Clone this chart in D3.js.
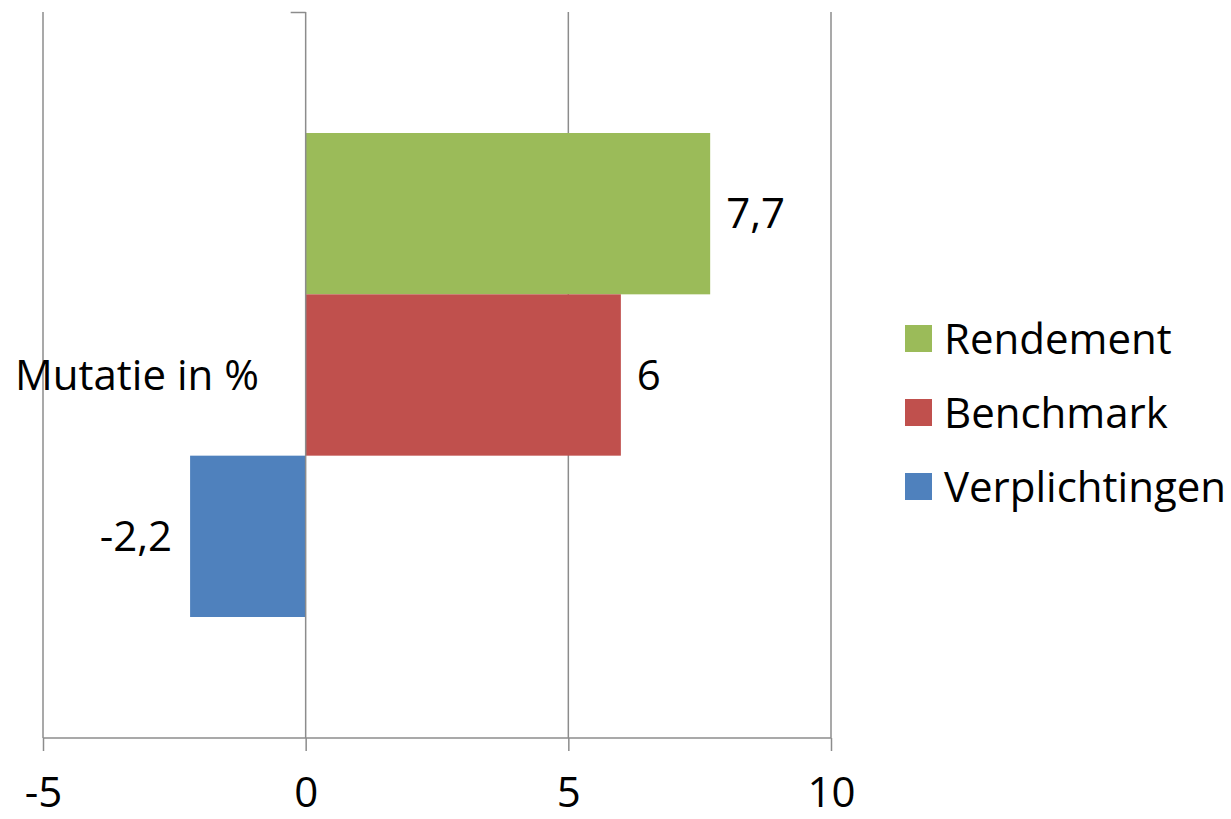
<!DOCTYPE html>
<html>
<head>
<meta charset="utf-8">
<script src="https://cdn.jsdelivr.net/npm/d3@7"></script>
<style>
  body { margin: 0; background: #fff; }
  svg text { font-family: "Open Sans", Lato, sans-serif; fill: #000; font-variant-ligatures: none; }
</style>
</head>
<body>
<svg id="chart" width="1231" height="819"></svg>
<script>
var categories = ['Mutatie in %'];
var seriesNames = ['Rendement', 'Benchmark', 'Verplichtingen'];
var seriesValues = [7.7, 6, -2.2];
var seriesLabels = ['7,7', '6', '-2,2'];
var seriesColors = ['#9bbb59', '#c0504d', '#4f81bd'];
var xTicks = [-5, 0, 5, 10];

var fontSize = '42px';
var svg = d3.select('#chart');
var plot = { left: 43, right: 831, top: 12, bottom: 738 };

var x = d3.scaleLinear().domain([-5, 10]).range([plot.left, plot.right]);
var y = d3.scaleBand().domain(categories).range([plot.top, plot.bottom]).paddingInner(0).paddingOuter(0.25);
var ySeries = d3.scaleBand().domain(seriesNames).range([0, y.bandwidth()]);

// gridlines (all ticks except zero)
svg.append('g').selectAll('line')
  .data(xTicks.filter(function(d) { return d !== 0; }))
  .join('line')
  .attr('x1', function(d) { return x(d); })
  .attr('x2', function(d) { return x(d); })
  .attr('y1', plot.top)
  .attr('y2', plot.bottom)
  .attr('stroke', '#8c8c8c')
  .attr('stroke-width', 1.5);

// bars
svg.append('g').selectAll('rect')
  .data(seriesNames)
  .join('rect')
  .attr('x', function(d, i) { return x(Math.min(0, seriesValues[i])); })
  .attr('y', function(d) { return y(categories[0]) + ySeries(d); })
  .attr('width', function(d, i) { return Math.abs(x(seriesValues[i]) - x(0)); })
  .attr('height', ySeries.bandwidth())
  .attr('fill', function(d, i) { return seriesColors[i]; });

// value labels
svg.append('g').selectAll('text')
  .data(seriesNames)
  .join('text')
  .attr('x', function(d, i) { return seriesValues[i] >= 0 ? x(seriesValues[i]) + 16 : x(seriesValues[i]) - 18; })
  .attr('y', function(d) { return y(categories[0]) + ySeries(d) + ySeries.bandwidth() / 2; })
  .attr('dy', '0.35em')
  .attr('text-anchor', function(d, i) { return seriesValues[i] >= 0 ? 'start' : 'end'; })
  .style('font-size', fontSize)
  .text(function(d, i) { return seriesLabels[i]; });

// x axis
var xAxis = d3.axisBottom(x).tickValues(xTicks).tickSize(13).tickPadding(26)
  .tickFormat(function(d) { return String(d); });
var gx = svg.append('g').attr('transform', 'translate(0,' + plot.bottom + ')').call(xAxis);
gx.select('.domain').attr('stroke', '#8c8c8c').attr('stroke-width', 1.5)
  .attr('d', 'M' + plot.left + ',0H' + plot.right);
gx.selectAll('.tick line').attr('stroke', '#8c8c8c').attr('stroke-width', 1.5);
gx.selectAll('.tick text').style('font-size', fontSize).attr('fill', '#000');

// vertical axis at zero
var yAxis = d3.axisLeft(d3.scaleLinear().domain([0, 1]).range([plot.bottom, plot.top]))
  .tickValues([1]).tickSize(15).tickFormat('');
var gy = svg.append('g').attr('transform', 'translate(' + x(0) + ',0)').call(yAxis);
gy.select('.domain').attr('stroke', '#8c8c8c').attr('stroke-width', 1.5)
  .attr('d', 'M0,' + plot.top + 'V' + plot.bottom);
gy.selectAll('.tick line').attr('stroke', '#8c8c8c').attr('stroke-width', 1.5);

// category label
svg.append('text')
  .attr('x', 15)
  .attr('y', y(categories[0]) + y.bandwidth() / 2)
  .attr('dy', '0.35em')
  .style('font-size', fontSize)
  .text(categories[0]);

// legend
var legend = svg.append('g').selectAll('g')
  .data(seriesNames)
  .join('g')
  .attr('transform', function(d, i) { return 'translate(905,' + (339 + i * 74) + ')'; });
legend.append('rect')
  .attr('x', 0).attr('y', -14)
  .attr('width', 27).attr('height', 27)
  .attr('fill', function(d, i) { return seriesColors[i]; });
legend.append('text')
  .attr('x', 39)
  .attr('dy', '0.35em')
  .style('font-size', fontSize)
  .text(function(d) { return d; });
</script>
</body>
</html>
